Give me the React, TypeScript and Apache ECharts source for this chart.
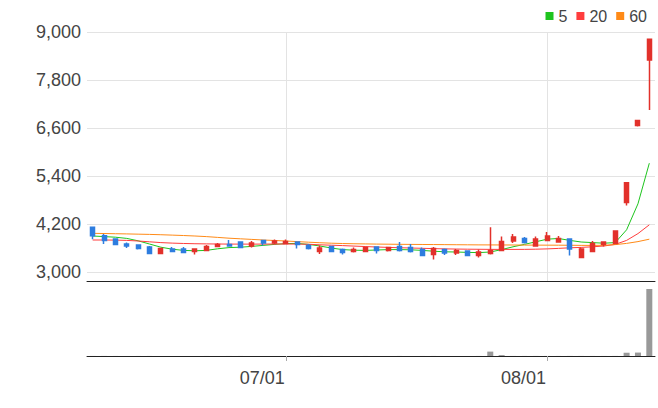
import React, { useEffect, useRef } from 'react';
import * as echarts from 'echarts';

const dates = [
  '2020-06-08', '2020-06-09', '2020-06-10', '2020-06-11', '2020-06-12',
  '2020-06-15', '2020-06-16', '2020-06-17', '2020-06-18', '2020-06-19',
  '2020-06-22', '2020-06-23', '2020-06-24', '2020-06-25', '2020-06-26',
  '2020-06-29', '2020-06-30',
  '2020-07-01', '2020-07-02', '2020-07-03', '2020-07-06', '2020-07-07',
  '2020-07-08', '2020-07-09', '2020-07-10', '2020-07-13', '2020-07-14',
  '2020-07-15', '2020-07-16', '2020-07-17', '2020-07-20', '2020-07-21',
  '2020-07-22', '2020-07-23', '2020-07-24', '2020-07-27', '2020-07-28',
  '2020-07-29', '2020-07-30', '2020-07-31',
  '2020-08-03', '2020-08-04', '2020-08-05', '2020-08-06', '2020-08-07',
  '2020-08-10', '2020-08-11', '2020-08-12', '2020-08-13', '2020-08-14',
];

const opens = [
  4120, 3905, 3825, 3700, 3675, 3625, 3460, 3575, 3575, 3510,
  3535, 3635, 3690, 3750, 3650, 3785, 3725, 3710, 3750, 3665,
  3510, 3640, 3560, 3510, 3510, 3625, 3540, 3635, 3610, 3560,
  3435, 3560, 3475, 3525, 3410, 3460, 3540, 3775, 3840, 3650,
  3785, 3750, 3825, 3360, 3510, 3685, 3715, 4735, 6660, 8300,
];
const closes = [
  3905, 3790, 3685, 3650, 3585, 3460, 3585, 3510, 3485, 3575,
  3640, 3690, 3650, 3610, 3725, 3725, 3775, 3765, 3685, 3585,
  3600, 3510, 3485, 3560, 3615, 3535, 3610, 3535, 3510, 3410,
  3585, 3475, 3535, 3410, 3500, 3535, 3765, 3875, 3740, 3825,
  3900, 3840, 3575, 3575, 3715, 3750, 4025, 5230, 6790, 8820,
];
const lows = [
  3820, 3700, 3685, 3600, 3560, 3460, 3460, 3510, 3485, 3435,
  3535, 3635, 3650, 3610, 3610, 3660, 3690, 3710, 3585, 3560,
  3450, 3510, 3435, 3485, 3510, 3460, 3510, 3510, 3485, 3410,
  3310, 3425, 3425, 3410, 3360, 3435, 3540, 3725, 3710, 3650,
  3785, 3735, 3410, 3360, 3510, 3635, 3715, 4660, 6635, 7050,
];
const highs = [
  4120, 3950, 3825, 3735, 3675, 3650, 3600, 3625, 3625, 3575,
  3675, 3725, 3800, 3750, 3775, 3785, 3810, 3810, 3750, 3700,
  3660, 3640, 3585, 3610, 3635, 3625, 3610, 3750, 3700, 3615,
  3625, 3590, 3575, 3525, 3565, 4120, 3890, 3950, 3875, 3885,
  4000, 3900, 3825, 3610, 3775, 3750, 4025, 5230, 6790, 8820,
];

const ma5 = [
  3900, 3885, 3870, 3840, 3780, 3700, 3620, 3570, 3540, 3530,
  3540, 3580, 3610, 3620, 3640, 3665, 3690, 3710, 3715, 3690,
  3650, 3600, 3560, 3545, 3540, 3550, 3560, 3560, 3555, 3540,
  3520, 3505, 3500, 3490, 3485, 3500, 3560, 3630, 3690, 3755,
  3820, 3838, 3790, 3750, 3735, 3720, 3735, 4055, 4705, 5720,
];
const ma20 = [
  3800, 3800, 3797, 3790, 3775, 3755, 3735, 3722, 3713, 3707,
  3703, 3700, 3698, 3697, 3697, 3698, 3700, 3700, 3698, 3693,
  3680, 3670, 3660, 3648, 3636, 3625, 3615, 3607, 3600, 3592,
  3585, 3578, 3574, 3570, 3568, 3566, 3565, 3565, 3566, 3570,
  3578, 3590, 3605, 3615, 3630, 3650, 3690, 3790, 3960, 4180,
];
const ma60 = [
  3967, 3962, 3957, 3952, 3946, 3940, 3932, 3922, 3912, 3900,
  3885, 3865, 3845, 3830, 3815, 3800, 3788, 3775, 3760, 3745,
  3732, 3720, 3712, 3706, 3702, 3698, 3695, 3692, 3690, 3688,
  3686, 3684, 3682, 3680, 3678, 3677, 3676, 3675, 3673, 3672,
  3671, 3670, 3668, 3666, 3665, 3668, 3685, 3715, 3760, 3820,
];

const volumes = [
  9000, 11000, 7000, 5000, 6000, 8000, 5000, 4000, 5000, 4000,
  6000, 5000, 6000, 7000, 5000, 4000, 3000, 4000, 5000, 6000,
  7000, 5000, 4000, 4000, 6000, 5000, 4000, 9000, 5000, 6000,
  8000, 5000, 4000, 5000, 7000, 820000, 170000, 10000, 9000, 9000,
  10000, 7000, 11000, 9000, 8000, 7000, 12000, 610000, 640000, 12500000,
];

const yTicks = [3000, 4200, 5400, 6600, 7800, 9000];
const yMin = 2775;
const yMax = 9000;

const maNames = ['5', '20', '60'];
const maColors = ['#1ec41e', '#ff3d3d', '#ff8a17'];
const upColor = '#e2312b';
const downColor = '#2e7ddf';

export default function App() {
  const ref = useRef<HTMLDivElement>(null);

  useEffect(() => {
    const chart = echarts.init(ref.current as HTMLDivElement, undefined, { renderer: 'svg' });
    const isMonthStart = (i: number) =>
      i > 0 && dates[i].slice(5, 7) !== dates[i - 1].slice(5, 7);
    const monthStartDates = dates.filter((_, i) => isMonthStart(i));
    const candleData = dates.map((_, i) => [opens[i], closes[i], lows[i], highs[i]]);
    const maData = [ma5, ma20, ma60];
    const font = '"Liberation Sans", Arial, sans-serif';
    const textColor = '#444';

    chart.setOption({
      animation: false,
      textStyle: { fontFamily: font },
      legend: {
        data: maNames,
        right: 6,
        top: 3,
        icon: 'rect',
        itemWidth: 8,
        itemHeight: 8,
        itemGap: 9,
        selectedMode: false,
        textStyle: { fontSize: 16, color: textColor, fontFamily: font },
      },
      grid: [
        { left: 87, top: 32, width: 568, height: 249 },
        { left: 87, top: 289, width: 568, height: 67 },
      ],
      xAxis: [
        {
          type: 'category',
          gridIndex: 0,
          data: dates,
          boundaryGap: true,
          axisLine: { show: true, lineStyle: { color: '#222', width: 1 } },
          axisTick: { show: false },
          axisLabel: { show: false },
          splitLine: { show: false },
        },
        {
          type: 'category',
          gridIndex: 1,
          data: dates,
          boundaryGap: true,
          axisLine: { show: true, lineStyle: { color: '#222', width: 1 } },
          axisTick: {
            show: true,
            alignWithLabel: true,
            interval: (i: number) => isMonthStart(i),
            length: 5,
            lineStyle: { color: '#aaa' },
          },
          axisLabel: {
            interval: (i: number) => isMonthStart(i),
            formatter: (v: string) => v.slice(5, 7) + '/01',
            fontSize: 18,
            color: textColor,
            margin: 13,
            align: 'right',
            padding: [0, 1, 0, 0],
            fontFamily: font,
          },
          splitLine: { show: false },
        },
      ],
      yAxis: [
        {
          type: 'value',
          gridIndex: 0,
          min: yMin,
          max: yMax,
          axisLine: { show: false },
          axisTick: { show: false, customValues: yTicks },
          axisLabel: {
            customValues: yTicks,
            formatter: (v: number) => v.toLocaleString('en-US'),
            fontSize: 18,
            color: textColor,
            margin: 6,
            fontFamily: font,
          },
          splitLine: { show: true, lineStyle: { color: '#e3e3e3', width: 1 } },
        },
        {
          type: 'value',
          gridIndex: 1,
          min: 0,
          max: 'dataMax',
          show: false,
          splitLine: { show: false },
        },
      ],
      series: [
        ...maNames.map((name, k) => ({
          name,
          type: 'line',
          xAxisIndex: 0,
          yAxisIndex: 0,
          data: maData[k],
          symbol: 'none',
          showSymbol: false,
          smooth: false,
          itemStyle: { color: maColors[k] },
          lineStyle: { color: maColors[k], width: 1 },
          silent: true,
          z: 3,
        })),
        {
          name: 'price',
          type: 'candlestick',
          xAxisIndex: 0,
          yAxisIndex: 0,
          data: candleData,
          barWidth: 4.5,
          itemStyle: {
            color: upColor,
            color0: downColor,
            borderColor: upColor,
            borderColor0: downColor,
            borderWidth: 1.5,
          },
          z: 4,
          markLine: {
            silent: true,
            symbol: 'none',
            label: { show: false },
            lineStyle: { color: '#e3e3e3', type: 'solid', width: 1 },
            emphasis: { disabled: true },
            data: monthStartDates.map((d) => ({ xAxis: d })),
            z: 1,
          },
        },
        {
          name: 'volume',
          type: 'bar',
          xAxisIndex: 1,
          yAxisIndex: 1,
          data: volumes,
          barWidth: 6,
          itemStyle: { color: '#999999' },
          silent: true,
        },
      ],
    });

    return () => chart.dispose();
  }, []);

  return (
    <div
      ref={ref}
      style={{ position: 'absolute', left: 0, top: 0, width: 658, height: 408 }}
    />
  );
}
